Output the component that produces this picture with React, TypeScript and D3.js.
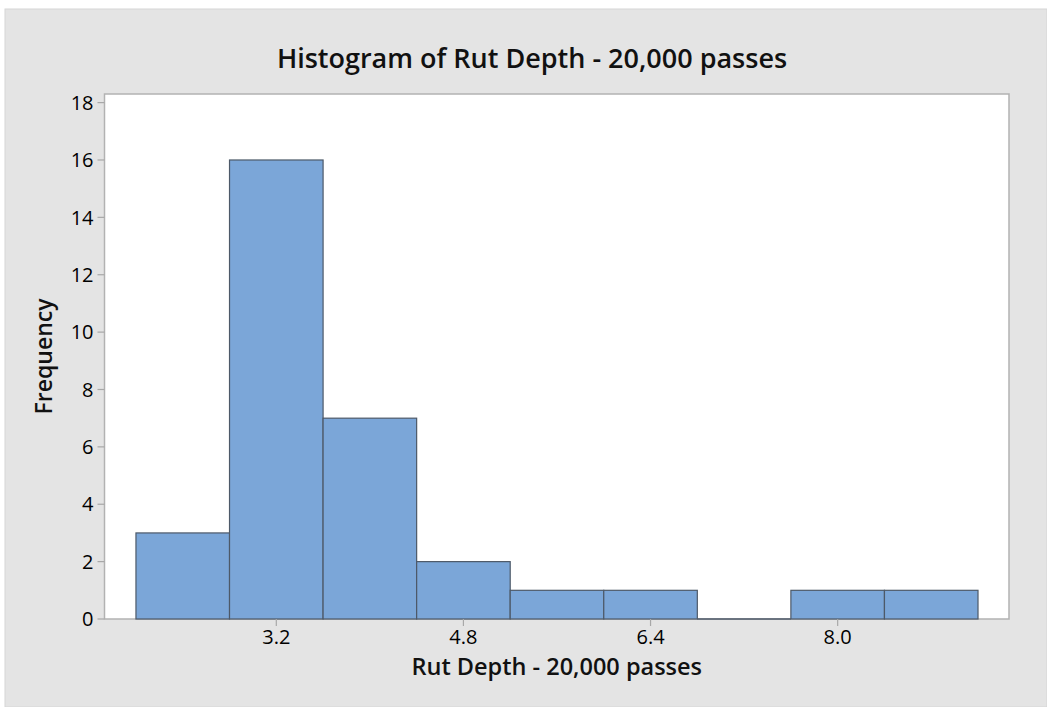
import React from "react";
import * as d3 from "d3";

const binStarts = [2.0, 2.8, 3.6, 4.4, 5.2, 6.0, 6.8, 7.6, 8.4];
const binWidth = 0.8;
const counts = [3, 16, 7, 2, 1, 1, 0, 1, 1];
const xTicks = [3.2, 4.8, 6.4, 8.0];
const yTicks = [0, 2, 4, 6, 8, 10, 12, 14, 16, 18];
const title = "Histogram of Rut Depth - 20,000 passes";
const xLabel = "Rut Depth - 20,000 passes";
const yLabel = "Frequency";

const W = 1047;
const H = 707;
const plot = { left: 104.5, right: 1009, top: 94, bottom: 619 };
const FONT = "'Open Sans', 'Noto Sans', sans-serif";

export default function App() {
  const x = d3.scaleLinear().domain([1.731, 9.465]).range([plot.left, plot.right]);
  const y = d3.scaleLinear().domain([0, 18.3]).range([plot.bottom, plot.top]);
  const bins = binStarts.map((s, i) => ({ x0: s, x1: s + binWidth, n: counts[i] }));
  return (
    <svg
      width={W}
      height={H}
      style={{ position: "absolute", left: 0, top: 0, display: "block" }}
    >
      <rect x={0} y={0} width={W} height={H} fill="#ffffff" />
      <rect x={5} y={9} width={W - 5} height={H - 9} fill="#e4e4e4" stroke="#d6d6d6" strokeWidth={1} />
      <rect
        x={plot.left}
        y={plot.top}
        width={plot.right - plot.left}
        height={plot.bottom - plot.top}
        fill="#ffffff"
        stroke="#b2b2b2"
        strokeWidth={1.5}
      />
      {bins.map((b, i) =>
        b.n > 0 ? (
          <rect
            key={i}
            x={x(b.x0)}
            y={y(b.n)}
            width={x(b.x1) - x(b.x0)}
            height={y(0) - y(b.n)}
            fill="#7ba6d8"
            stroke="#4d5968"
            strokeWidth={1.2}
          />
        ) : (
          <line
            key={i}
            x1={x(b.x0)}
            x2={x(b.x1)}
            y1={y(0)}
            y2={y(0)}
            stroke="#4d5968"
            strokeWidth={1.5}
          />
        )
      )}
      {yTicks.map((t) => (
        <g key={t}>
          <line x1={plot.left - 7} x2={plot.left} y1={y(t)} y2={y(t)} stroke="#a8a8a8" strokeWidth={1.2} />
          <text
            x={plot.left - 11}
            y={y(t)}
            dy="0.36em"
            textAnchor="end"
            fontFamily={FONT}
            fontSize={20}
            fill="#000"
          >
            {t}
          </text>
        </g>
      ))}
      {xTicks.map((t) => (
        <g key={t}>
          <line x1={x(t)} x2={x(t)} y1={plot.bottom} y2={plot.bottom + 7} stroke="#a8a8a8" strokeWidth={1.2} />
          <text
            x={x(t)}
            y={plot.bottom + 25}
            textAnchor="middle"
            fontFamily={FONT}
            fontSize={20}
            fill="#000"
          >
            {t.toFixed(1)}
          </text>
        </g>
      ))}
      <text
        x={532}
        y={68}
        textAnchor="middle"
        fontFamily={FONT}
        fontSize={27}
        fontWeight={600}
        fill="#111"
      >
        {title}
      </text>
      <text
        x={(plot.left + plot.right) / 2}
        y={675}
        textAnchor="middle"
        fontFamily={FONT}
        fontSize={23.5}
        fontWeight={600}
        fill="#111"
      >
        {xLabel}
      </text>
      <text
        transform={`translate(52,${(plot.top + plot.bottom) / 2}) rotate(-90)`}
        textAnchor="middle"
        fontFamily={FONT}
        fontSize={23}
        fontWeight={600}
        fill="#111"
      >
        {yLabel}
      </text>
    </svg>
  );
}
